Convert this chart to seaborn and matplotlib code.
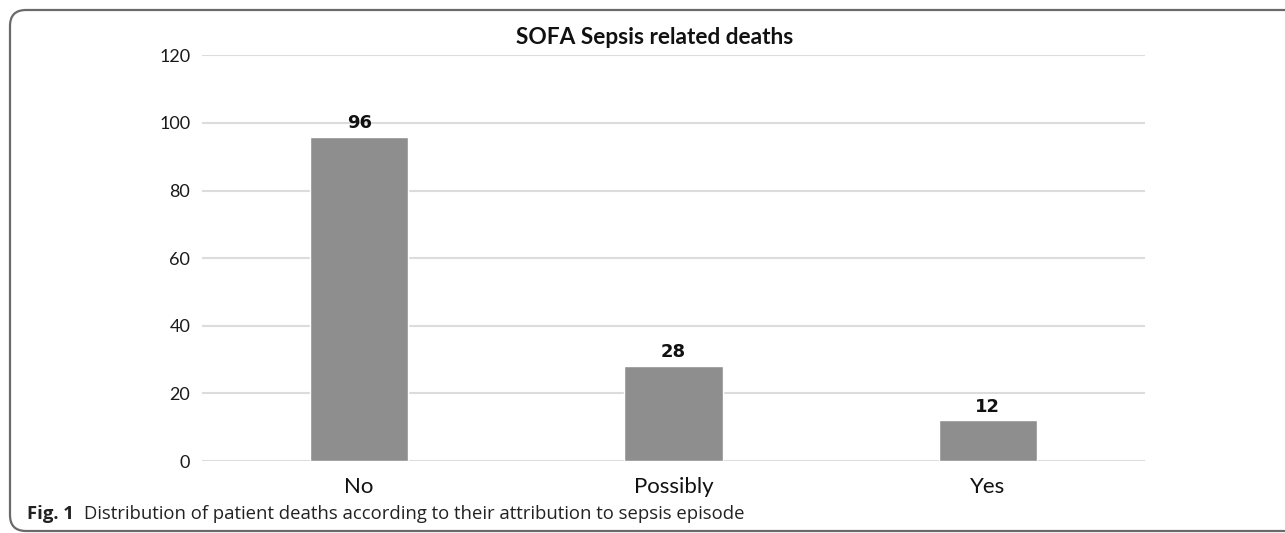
import matplotlib
matplotlib.use("Agg")
import matplotlib.pyplot as plt
import seaborn as sns
import pandas as pd
from matplotlib.patches import FancyBboxPatch

categories = ["No", "Possibly", "Yes"]
deaths = [96, 28, 12]
yticks = [0, 20, 40, 60, 80, 100, 120]
title = "SOFA Sepsis related deaths"
caption_bold = "Fig. 1"
caption_text = "Distribution of patient deaths according to their attribution to sepsis episode"

sns.set_theme(style="white")
plt.rcParams["font.family"] = ["Lato", "DejaVu Sans"]

W, H = 1285, 533
fig = plt.figure(figsize=(W / 100, H / 100), dpi=100)
fig.patch.set_facecolor("white")

# background axes for rounded frame
bg = fig.add_axes([0, 0, 1, 1], zorder=0)
bg.set_xlim(0, W)
bg.set_ylim(H, 0)
bg.axis("off")
bg.add_patch(FancyBboxPatch((10, 10), 1320, 521, boxstyle="round,pad=0,rounding_size=16",
                            facecolor="white", edgecolor="#6a6a6a", linewidth=1.6))

ax = fig.add_axes([202 / W, 1 - 461 / H, (1145 - 202) / W, (461 - 55.4) / H], zorder=1)
ax.patch.set_alpha(0)
df = pd.DataFrame({"cat": categories, "val": deaths})
sns.barplot(data=df, x="cat", y="val", color="#8e8e8e", saturation=1, width=0.312, ax=ax, zorder=3)
ax.set_ylim(0, 120)
ax.set_xlim(-0.5, 2.5)
ax.set_yticks(yticks)
ax.set_yticklabels([str(v) for v in yticks])
ax.yaxis.grid(True, color="#dcdcdc", linewidth=1.5, zorder=0)
ax.xaxis.grid(False)
for s in ax.spines.values():
    s.set_visible(False)
ax.tick_params(axis="y", length=0, pad=8.5, labelsize=13, labelcolor="#1a1a1a")
ax.tick_params(axis="x", length=0, pad=11.5, labelsize=16, labelcolor="#111111")
ax.set_xlabel("")
ax.set_ylabel("")

for i, v in enumerate(deaths):
    ax.annotate(str(v), (i, v), xytext=(0, 3.5), textcoords="offset points",
                ha="center", va="bottom", fontsize=13, fontweight="bold",
                family="DejaVu Sans", color="#111111")

fig.text(655 / W, 1 - 44 / H, title, ha="center", va="baseline", fontsize=16.3,
         fontweight="bold", color="#111111")

t1 = fig.text(27 / W, 1 - 519 / H, caption_bold, ha="left", va="baseline", fontsize=13.3,
              fontweight="bold", family=["Open Sans", "DejaVu Sans"], color="#222222")
fig.canvas.draw()
bb = t1.get_window_extent()
fig.text((bb.x1 + 10) / W, 1 - 519 / H, caption_text, ha="left", va="baseline", fontsize=13.3,
         family=["Open Sans", "DejaVu Sans"], color="#222222")

fig.savefig("out.png", dpi=100, facecolor="white")
